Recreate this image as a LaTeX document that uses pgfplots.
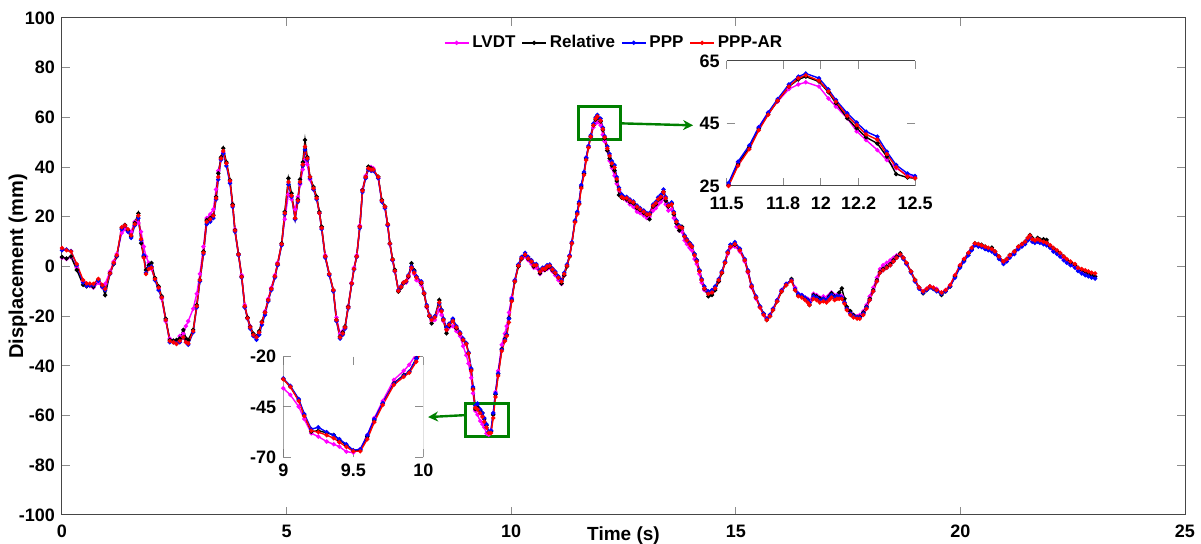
\documentclass[border=0pt]{standalone}
\usepackage{fontspec}
\setmainfont{Liberation Sans}
\usepackage{pgfplots}
\usepackage{pgfplotstable}
\pgfplotsset{compat=1.18}
\usetikzlibrary{arrows.meta}

\definecolor{lvdt}{RGB}{255,0,255}
\definecolor{ppp}{RGB}{0,0,255}
\definecolor{pppar}{RGB}{255,0,0}
\definecolor{boxgreen}{RGB}{0,128,0}
\definecolor{axgray}{RGB}{70,70,70}

% Displacement histories (mm) of the four measurements
\pgfplotstableread{
t lvdt rel ppp pppar
0.00 3.5 3.8 6.5 7.4
0.10 3.0 3.2 6.8 6.5
0.20 3.8 4.0 6.2 6.0
0.33 -0.5 -1.4 0.5 1.0
0.47 -6.0 -7.4 -6.5 -5.5
0.55 -7.5 -8.0 -7.8 -6.8
0.62 -7.8 -7.4 -7.6 -6.9
0.70 -8.5 -8.2 -7.5 -7.0
0.81 -6.5 -5.4 -5.8 -5.0
0.90 -8.5 -8.0 -8.2 -7.5
0.96 -7.0 -11.5 -9.5 -9.0
1.07 -2.0 -2.6 -3.0 -2.8
1.15 2.0 1.0 1.2 1.5
1.22 5.0 4.0 4.2 4.5
1.33 13.5 15.5 15.0 15.8
1.40 15.0 16.7 16.3 16.5
1.47 14.0 14.5 14.0 15.0
1.54 14.0 12.0 11.5 12.5
1.62 18.0 17.5 16.5 17.0
1.70 17.5 21.4 19.5 20.5
1.76 14.0 9.4 10.5 11.0
1.82 8.0 4.0 4.5 3.5
1.87 4.0 -1.4 -2.5 -3.0
1.93 1.5 0.5 -0.5 -1.0
1.99 -1.0 1.4 0.0 -0.5
2.07 -5.0 -4.6 -5.5 -5.0
2.15 -9.0 -8.0 -9.5 -8.5
2.22 -13.0 -12.0 -12.5 -12.5
2.31 -22.0 -21.0 -21.5 -21.5
2.40 -29.0 -29.6 -30.5 -30.0
2.48 -30.0 -29.8 -30.5 -30.5
2.55 -30.5 -29.6 -31.0 -31.2
2.62 -28.0 -29.0 -30.5 -30.0
2.70 -27.0 -25.5 -28.5 -28.5
2.76 -24.0 -29.0 -30.5 -30.5
2.81 -22.0 -29.6 -31.5 -31.0
2.92 -17.0 -25.5 -26.5 -26.0
3.00 -11.0 -15.5 -16.5 -16.0
3.07 -3.0 -5.4 -6.0 -5.5
3.15 8.0 6.0 5.0 5.5
3.22 19.5 18.7 17.0 18.0
3.30 21.0 19.5 18.0 19.0
3.37 23.0 20.7 19.5 20.5
3.43 31.0 28.0 27.0 27.5
3.48 38.5 37.5 35.0 36.0
3.54 43.0 44.0 43.0 43.5
3.59 46.0 47.6 45.5 46.5
3.66 41.5 42.0 40.5 41.5
3.74 34.0 34.8 33.5 34.5
3.80 25.0 25.0 24.0 24.5
3.85 15.0 14.7 14.0 14.5
3.93 5.0 5.0 4.5 4.8
4.00 -3.5 -4.1 -4.5 -4.2
4.07 -15.5 -16.2 -16.5 -16.0
4.13 -20.5 -20.5 -21.0 -20.8
4.19 -24.0 -24.2 -25.0 -24.5
4.26 -27.5 -27.0 -28.0 -27.5
4.33 -28.5 -28.2 -29.5 -28.5
4.39 -26.5 -26.0 -27.5 -26.5
4.45 -22.5 -22.2 -23.5 -22.5
4.52 -18.0 -18.5 -19.5 -18.5
4.59 -13.0 -13.5 -14.0 -13.5
4.66 -8.5 -9.0 -9.5 -9.0
4.74 -3.5 -4.1 -4.5 -4.0
4.80 1.5 1.0 0.5 1.0
4.89 9.0 9.3 8.5 9.0
4.96 19.0 22.0 21.0 21.5
5.04 29.0 35.5 33.0 34.0
5.11 27.0 29.5 28.0 28.5
5.19 23.0 19.4 19.0 19.5
5.25 28.0 27.0 26.0 26.5
5.30 33.0 35.0 33.5 34.0
5.36 39.0 42.0 40.5 41.0
5.41 42.9 50.9 47.0 48.2
5.46 41.0 44.0 43.0 43.5
5.52 35.0 36.1 35.5 36.0
5.60 31.0 32.0 31.0 31.5
5.67 27.5 28.1 27.0 27.5
5.73 21.5 22.0 21.5 21.5
5.78 15.5 16.0 15.0 15.5
5.86 4.5 4.0 3.5 4.0
5.95 -3.0 -3.0 -3.5 -3.0
6.04 -9.5 -9.5 -10.0 -9.5
6.11 -20.5 -21.5 -22.0 -21.5
6.19 -27.0 -28.2 -29.0 -28.5
6.25 -26.0 -26.5 -27.5 -27.0
6.30 -24.5 -24.2 -25.0 -24.5
6.37 -16.0 -16.2 -16.8 -16.5
6.45 -6.5 -6.8 -7.0 -6.8
6.50 -0.5 -1.0 -1.2 -1.0
6.56 4.5 4.0 3.8 4.0
6.63 16.5 16.0 15.5 16.0
6.69 31.0 30.8 30.0 30.5
6.76 36.5 36.0 35.5 36.0
6.82 39.5 40.2 39.0 39.5
6.88 40.0 39.5 38.5 39.0
6.93 39.5 38.8 38.5 39.0
7.04 35.5 36.1 35.5 36.0
7.12 26.5 26.8 26.0 26.5
7.19 23.5 24.1 23.5 24.0
7.25 16.5 17.0 16.5 17.0
7.30 9.0 9.3 9.0 9.2
7.36 2.5 3.0 2.5 2.8
7.41 -2.0 -1.4 -2.0 -1.8
7.49 -9.5 -10.1 -9.5 -9.8
7.55 -8.0 -8.5 -8.0 -8.2
7.60 -6.5 -6.8 -6.5 -6.5
7.66 -6.5 -6.0 -6.0 -5.8
7.71 -4.5 -4.1 -3.5 -3.8
7.78 -0.7 1.3 0.0 -0.5
7.84 -3.0 -1.5 -2.0 -2.5
7.89 -5.5 -4.1 -4.0 -4.5
8.00 -7.5 -6.8 -6.0 -6.5
8.06 -11.0 -11.0 -10.5 -10.8
8.12 -16.5 -16.2 -15.5 -16.0
8.18 -20.0 -20.0 -19.5 -19.8
8.23 -22.0 -22.9 -21.0 -21.5
8.30 -21.5 -20.2 -20.0 -20.5
8.40 -17.5 -13.5 -15.0 -14.5
8.45 -19.5 -17.5 -17.5 -18.0
8.49 -22.0 -21.5 -21.0 -21.5
8.56 -25.5 -26.9 -24.5 -25.5
8.62 -24.5 -24.0 -23.0 -23.5
8.70 -24.0 -21.5 -21.0 -22.0
8.78 -26.0 -24.9 -24.0 -24.5
8.86 -28.0 -27.0 -26.5 -27.0
8.93 -32.0 -29.6 -29.0 -29.5
9.00 -35.7 -31.0 -30.8 -31.2
9.05 -39.0 -34.9 -34.5 -35.0
9.11 -44.8 -41.5 -41.0 -42.0
9.15 -51.0 -49.0 -48.5 -49.5
9.20 -58.1 -57.3 -56.0 -56.8
9.25 -59.7 -56.8 -55.1 -57.5
9.31 -62.2 -57.8 -57.5 -59.0
9.36 -63.5 -58.9 -59.0 -60.5
9.40 -64.7 -61.4 -61.0 -62.5
9.45 -67.2 -63.9 -63.5 -64.8
9.50 -67.7 -66.7 -66.5 -67.0
9.55 -66.0 -66.4 -66.0 -67.0
9.60 -59.0 -59.7 -59.0 -61.0
9.65 -50.5 -51.5 -51.0 -52.5
9.71 -42.0 -43.2 -43.0 -44.0
9.79 -31.5 -33.2 -33.5 -34.0
9.86 -27.0 -29.1 -29.5 -30.0
9.90 -24.0 -27.5 -27.5 -28.0
9.95 -18.5 -20.8 -21.0 -22.5
10.01 -12.5 -13.5 -13.0 -14.0
10.08 -5.5 -6.1 -5.5 -6.0
10.16 0.5 0.0 0.8 0.3
10.23 3.0 3.0 3.8 3.3
10.31 4.0 4.6 5.5 4.8
10.38 2.5 3.0 3.8 3.2
10.45 1.0 1.9 2.5 2.0
10.50 -0.5 0.0 1.0 0.5
10.56 -0.5 0.6 1.0 0.5
10.64 -3.0 -2.7 -1.5 -2.0
10.70 -1.5 -1.0 -0.5 -1.0
10.75 -1.5 -1.4 -0.5 -1.0
10.80 -1.0 -0.5 0.5 0.0
10.86 -0.5 0.0 0.8 0.3
10.92 -2.0 -1.5 -0.8 -1.2
10.98 -3.5 -2.7 -2.0 -2.5
11.05 -5.5 -4.5 -4.0 -4.5
11.12 -7.0 -6.8 -5.5 -6.0
11.18 -3.5 -3.5 -2.5 -3.0
11.24 0.5 0.0 0.8 0.3
11.30 4.5 4.0 4.5 4.0
11.35 9.5 9.3 9.8 9.3
11.42 18.0 18.0 18.5 17.8
11.47 21.5 21.5 22.0 21.0
11.51 25.5 25.3 26.0 25.0
11.56 32.5 32.0 32.8 31.5
11.62 37.5 37.4 38.0 36.8
11.67 43.8 43.3 43.8 42.8
11.72 48.5 48.0 48.5 47.8
11.77 52.0 52.2 52.8 52.3
11.83 56.0 56.8 57.5 56.8
11.88 57.5 59.1 60.0 59.5
11.92 58.2 60.0 61.0 60.4
11.99 56.8 58.4 59.5 58.7
12.04 53.0 55.0 55.9 55.3
12.08 50.4 51.5 52.5 52.0
12.14 46.7 46.7 48.3 47.5
12.19 42.5 43.5 45.3 44.5
12.24 39.7 40.6 42.4 41.5
12.30 36.5 38.6 40.8 39.8
12.35 33.3 34.4 36.0 35.2
12.40 30.7 28.8 31.7 31.0
12.46 28.5 27.7 29.0 28.0
12.50 27.8 27.5 28.2 27.5
12.57 26.5 27.0 28.0 27.5
12.64 25.0 26.0 27.0 26.5
12.72 24.0 25.4 26.2 25.8
12.80 22.0 23.5 24.5 24.0
12.87 21.5 22.7 23.5 23.0
12.95 20.5 21.5 22.5 22.0
13.02 19.5 20.7 21.5 21.0
13.08 20.0 19.0 21.5 21.0
13.16 22.5 24.1 25.0 24.5
13.22 23.5 25.0 26.0 25.5
13.27 25.0 26.8 27.8 27.0
13.33 26.0 27.5 28.8 28.0
13.39 27.5 30.1 31.0 30.0
13.44 25.0 26.5 28.0 27.5
13.50 22.5 24.1 25.0 24.5
13.57 23.0 25.4 25.8 25.0
13.62 19.5 21.0 22.0 21.5
13.68 16.0 17.4 18.5 18.0
13.74 14.5 14.5 16.5 16.0
13.80 14.0 16.0 15.5 15.5
13.86 10.5 12.0 12.5 12.0
13.91 9.0 10.7 11.0 10.5
13.97 7.5 9.5 9.5 9.0
14.02 6.5 8.0 8.5 8.0
14.08 3.0 5.0 5.0 4.5
14.13 1.0 2.6 2.5 2.0
14.19 -3.0 -1.5 -1.5 -2.0
14.24 -6.5 -5.4 -5.0 -5.5
14.30 -9.5 -9.0 -8.0 -8.8
14.39 -11.0 -12.0 -10.0 -11.0
14.47 -10.5 -11.5 -9.5 -10.5
14.54 -9.0 -9.5 -8.0 -8.8
14.62 -6.0 -6.0 -5.0 -5.5
14.69 -2.5 -2.7 -2.0 -2.5
14.76 1.5 1.5 2.0 1.5
14.82 5.0 5.5 6.0 5.5
14.88 7.5 8.0 8.8 8.0
14.98 8.0 8.7 9.8 9.0
15.09 6.0 6.6 7.2 6.5
15.20 2.0 2.6 3.0 2.5
15.27 -2.5 -2.0 -1.5 -2.0
15.35 -8.5 -8.1 -7.5 -8.0
15.45 -13.0 -12.5 -12.0 -12.5
15.54 -16.5 -16.2 -16.0 -16.5
15.62 -19.5 -19.0 -19.0 -19.5
15.69 -21.0 -21.5 -21.0 -21.5
15.76 -19.5 -20.0 -19.5 -20.0
15.83 -17.0 -17.5 -17.0 -17.5
15.92 -13.5 -14.0 -13.5 -14.0
16.02 -9.5 -10.1 -9.5 -10.0
16.12 -7.0 -7.5 -7.0 -7.5
16.24 -5.5 -5.0 -5.5 -5.8
16.32 -8.5 -9.5 -9.0 -9.5
16.39 -11.0 -11.5 -11.0 -12.0
16.47 -11.5 -12.0 -11.5 -12.5
16.54 -12.5 -12.8 -12.5 -13.5
16.60 -13.0 -13.5 -13.5 -14.5
16.64 -14.0 -15.5 -14.5 -15.5
16.73 -11.0 -11.5 -12.0 -13.0
16.80 -11.5 -12.0 -12.5 -13.5
16.87 -12.5 -12.8 -13.5 -14.5
16.95 -12.0 -13.0 -13.0 -14.0
17.02 -12.5 -13.5 -13.5 -14.5
17.08 -11.5 -12.0 -12.5 -13.5
17.13 -10.5 -10.8 -11.5 -12.5
17.20 -11.5 -12.0 -12.5 -13.5
17.25 -11.5 -12.1 -12.0 -13.0
17.30 -11.0 -10.5 -12.0 -13.0
17.36 -12.0 -8.8 -12.5 -13.0
17.42 -14.5 -13.0 -14.5 -15.0
17.47 -16.5 -16.2 -17.0 -17.5
17.55 -18.5 -18.0 -19.0 -19.5
17.62 -19.5 -19.5 -20.0 -20.5
17.70 -20.0 -20.5 -20.5 -21.0
17.76 -19.5 -20.2 -20.5 -21.0
17.84 -18.0 -18.5 -19.0 -19.5
17.91 -15.5 -16.2 -16.5 -17.0
17.98 -12.0 -13.0 -13.5 -13.5
18.06 -8.5 -9.5 -10.0 -10.0
18.14 -4.5 -5.5 -6.0 -6.0
18.21 -1.0 -2.1 -2.5 -2.5
18.28 0.5 -1.0 -1.5 -1.5
18.36 1.5 0.0 -0.5 -0.5
18.44 2.5 1.0 0.5 0.5
18.51 3.5 2.6 2.0 2.0
18.58 4.5 4.0 3.5 3.5
18.66 5.0 5.3 4.5 4.8
18.73 3.5 3.5 3.0 3.5
18.80 1.0 1.3 1.0 1.5
18.90 -2.0 -2.0 -2.5 -2.0
18.99 -5.5 -5.4 -6.0 -5.5
19.08 -8.5 -8.5 -9.0 -8.5
19.17 -10.0 -10.8 -10.5 -10.0
19.25 -9.0 -9.5 -9.5 -9.0
19.32 -8.0 -8.1 -8.5 -8.0
19.40 -8.5 -9.0 -9.0 -8.5
19.47 -9.0 -9.5 -10.0 -9.5
19.58 -10.5 -11.5 -11.0 -10.5
19.67 -9.5 -10.0 -10.0 -9.5
19.77 -7.5 -8.1 -8.0 -7.5
19.88 -3.5 -4.0 -4.5 -3.5
19.99 0.5 0.0 -0.5 0.5
20.08 3.0 2.5 2.0 3.0
20.18 5.5 5.3 4.5 5.5
20.25 7.0 7.0 6.5 7.5
20.32 9.0 9.3 8.5 9.3
20.40 8.5 9.0 8.0 9.0
20.47 8.0 8.7 7.8 8.5
20.55 7.5 8.0 7.0 8.0
20.62 7.0 7.3 6.5 7.5
20.70 6.5 7.6 6.0 7.0
20.77 5.5 6.0 5.0 6.0
20.86 3.5 4.0 3.0 4.0
20.96 1.5 1.9 1.0 2.0
21.03 2.5 3.0 2.0 3.0
21.10 4.0 4.6 3.5 4.5
21.20 5.5 6.0 5.0 6.0
21.29 7.5 8.0 7.0 8.0
21.37 8.5 9.0 8.0 9.0
21.44 9.5 10.0 9.0 10.0
21.50 11.0 11.5 10.5 11.5
21.55 12.0 12.7 11.5 12.5
21.60 11.0 11.5 10.0 11.0
21.66 10.0 10.0 9.5 10.5
21.72 10.5 11.5 10.0 11.0
21.77 10.0 10.9 9.5 10.5
21.85 9.5 11.0 9.0 10.0
21.92 9.0 10.7 8.5 9.5
22.00 8.0 8.0 7.5 8.5
22.07 6.5 7.3 6.0 7.5
22.15 5.5 6.0 5.0 6.5
22.22 4.5 5.3 4.0 5.5
22.30 3.0 4.0 2.5 4.0
22.37 2.0 2.6 1.5 3.0
22.45 1.0 1.5 0.5 2.0
22.55 0.0 0.6 -0.5 1.0
22.62 -1.0 -0.5 -1.8 -0.5
22.70 -2.0 -1.4 -2.8 -1.0
22.78 -2.5 -2.0 -3.5 -1.5
22.85 -3.0 -2.7 -4.0 -2.0
22.92 -3.5 -3.5 -4.5 -2.5
23.00 -4.0 -4.1 -4.9 -2.8
}\disp

\pgfplotsset{
  trace/.style={line width=0.7pt, mark=*, mark size=0.7pt, mark options={solid}},
  every axis/.append style={
    /pgf/number format/assume math mode=true,
    tick label style={font=\fontsize{9}{10}\selectfont\bfseries},
    tick style={black!45, line width=0.5pt},
    major tick length=4pt,
  },
}

\begin{document}
\begin{tikzpicture}[font=\bfseries]
\begin{axis}[
  at={(0pt,0pt)}, anchor=south west,
  scale only axis, width=561.5pt, height=248.5pt,
  xmin=0, xmax=25, ymin=-100, ymax=100,
  xtick={0,5,...,25}, ytick={-100,-80,...,100},
  xticklabel style={yshift=-1.5pt},
  axis line style={axgray, line width=0.5pt},
  xlabel={Time (s)}, ylabel={Displacement (mm)},
  xlabel style={font=\fontsize{9.5}{11}\selectfont\bfseries, at={(axis description cs:0.5,0)}, anchor=center, yshift=-10.5pt},
  ylabel style={font=\fontsize{10}{12}\selectfont\bfseries, at={(axis description cs:-0.0392,0.5)}, anchor=center},
  legend columns=-1,
  legend image code/.code={%
    \draw[mark repeat=2, mark phase=2] plot coordinates {(0pt,0pt) (6pt,0pt) (12pt,0pt)};},
  legend style={draw=none, fill=none, at={(axis description cs:0.492,0.95)}, anchor=center,
    font=\fontsize{8.5}{10}\selectfont\bfseries,
    nodes={inner xsep=1.5pt},
    /tikz/every even column/.append style={column sep=1.5pt}},
]
\addplot[lvdt, trace] table[x=t, y=lvdt] {\disp};
\addlegendentry{LVDT}
\addplot[black, trace] table[x=t, y=rel] {\disp};
\addlegendentry{Relative}
\addplot[ppp, trace] table[x=t, y=ppp] {\disp};
\addlegendentry{PPP}
\addplot[pppar, trace] table[x=t, y=pppar] {\disp};
\addlegendentry{PPP-AR}

% zoom windows and pointers to the insets
\draw[boxgreen, line width=1.5pt] (axis cs:11.5,51.0) rectangle (axis cs:12.44,64.2);
\draw[boxgreen, line width=1.2pt, -{Stealth[length=5pt, width=5pt]}] (axis cs:12.44,57.6) -- (axis cs:14.05,56.8);
\draw[boxgreen, line width=1.5pt] (axis cs:8.99,-55.3) rectangle (axis cs:9.93,-68.6);
\draw[boxgreen, line width=1.2pt, -{Stealth[length=5pt, width=5pt]}] (axis cs:8.99,-59.8) -- (axis cs:8.15,-60.6);
\end{axis}

% inset: peak near 12 s (only horizontal frame lines)
\begin{axis}[
  at={(332.35pt,164.5pt)}, anchor=south west,
  scale only axis, width=94.15pt, height=62.5pt,
  xmin=11.5, xmax=12.5, ymin=25, ymax=65,
  xtick={11.5,11.8,12,12.2,12.5}, ytick={25,45,65},
  xticklabel style={yshift=-2pt},
  axis background/.style={fill=white},
  axis line style={draw=none},
]
\addplot[lvdt, trace] table[x=t, y=lvdt] {\disp};
\addplot[black, trace] table[x=t, y=rel] {\disp};
\addplot[ppp, trace] table[x=t, y=ppp] {\disp};
\addplot[pppar, trace] table[x=t, y=pppar] {\disp};
\draw[axgray, line width=0.5pt] (rel axis cs:0,1) -- (rel axis cs:1,1);
\draw[axgray, line width=0.5pt] (rel axis cs:0,0) -- (rel axis cs:1,0);
\end{axis}

% inset: trough near 9.5 s (only vertical frame lines)
\begin{axis}[
  at={(110.65pt,28.85pt)}, anchor=south west,
  scale only axis, width=70pt, height=50.3pt,
  xmin=9, xmax=10, ymin=-70, ymax=-20,
  xtick={9,9.5,10}, ytick={-70,-45,-20},
  axis background/.style={fill=white},
  axis line style={draw=none},
]
\addplot[lvdt, trace] table[x=t, y=lvdt] {\disp};
\addplot[black, trace] table[x=t, y=rel] {\disp};
\addplot[ppp, trace] table[x=t, y=ppp] {\disp};
\addplot[pppar, trace] table[x=t, y=pppar] {\disp};
\draw[black!55, line width=0.6pt] (rel axis cs:0,0) -- (rel axis cs:0,1);
\draw[black!35, line width=0.6pt] (rel axis cs:1,0) -- (rel axis cs:1,1);
\end{axis}

\pgfresetboundingbox
\useasboundingbox (-31pt,-14.5pt) rectangle (569.5pt,257.5pt);
\end{tikzpicture}
\end{document}
